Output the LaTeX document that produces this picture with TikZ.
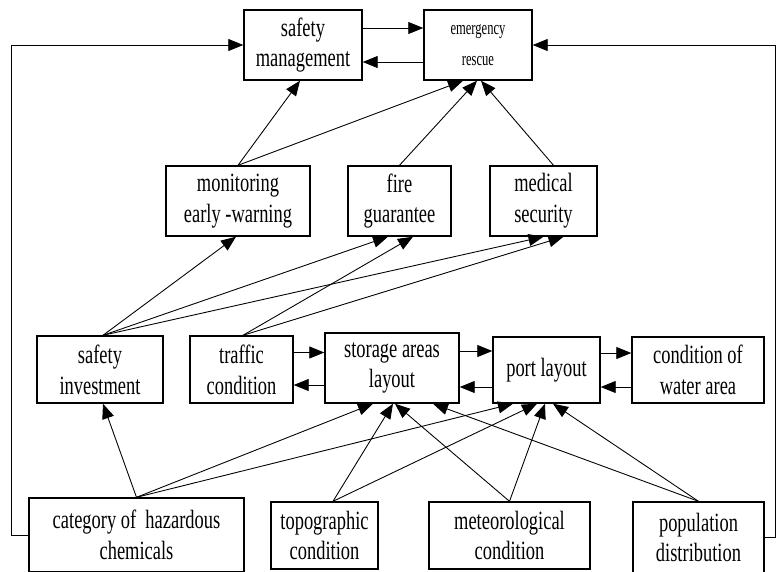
\documentclass[tikz,border=0pt]{standalone}
\usepackage{fontspec}
\setmainfont[FakeStretch=0.7]{Liberation Serif}
\newfontfamily\ersmall[FakeStretch=0.65]{Liberation Serif}
\usepackage{tikz}
\usetikzlibrary{arrows.meta,positioning}
\tikzstyle{box} = [draw=black, line width=0.8pt, rectangle, minimum height=1.4cm, align=center, inner sep=0pt, font=\fontsize{15}{17.5}\selectfont]
\tikzstyle{arrow} = [line width=0.5pt,->,>={Triangle[length=3mm,width=2.4mm]}]

\begin{document}
\begin{tikzpicture}
			\useasboundingbox (0,0) rectangle (15.52,-11.42);
			% top
			\coordinate (pSM) at (6.06,-0.90);
			\coordinate (pER) at (9.56,-0.90);
			% support
			\coordinate (pMON) at (4.76,-4.02);
			\coordinate (pFIRE) at (7.99,-4.02);
			\coordinate (pMED) at (10.87,-4.02);
			% middle row
			\coordinate (pSINV) at (2.00,-7.39);
			\coordinate (pTRAF) at (4.83,-7.39);
			\coordinate (pSTOR) at (7.84,-7.36);
			\coordinate (pPORT) at (10.93,-7.40);
			\coordinate (pWATER) at (13.96,-7.40);
			% bottom row
			\coordinate (pCAT) at (2.73,-10.70);
			\coordinate (pTOPO) at (6.49,-10.71);
			\coordinate (pMET) at (10.19,-10.71);
			\coordinate (pPOP) at (13.97,-10.75);
			\begin{scope}[every node/.style={box}]
			\node[name=SM, minimum width=2.36cm] at (pSM) {safety\\management};
			\node[name=ER, minimum width=2.16cm, font=\ersmall\fontsize{11}{17.5}\selectfont] at (pER) {emergency\\rescue};
			\node[name=MON, minimum width=2.88cm] at (pMON) {monitoring\\early -warning};
			\node[name=FIRE, minimum width=2.06cm] at (pFIRE) {fire\\guarantee};
			\node[name=MED, minimum width=2.14cm] at (pMED) {medical\\security};
			\end{scope}
			\begin{scope}[every node/.style={box, minimum height=1.34cm}]
			\node[name=SINV, minimum width=2.52cm] at (pSINV) {safety\\investment};
			\node[name=TRAF, minimum width=2.06cm] at (pTRAF) {traffic\\condition};
			\node[name=STOR, minimum width=2.68cm, minimum height=1.40cm] at (pSTOR) {storage areas\\layout};
			\node[name=PORT, minimum width=2.14cm, minimum height=1.32cm] at (pPORT) {port layout};
			\node[name=WATER, minimum width=2.64cm, minimum height=1.32cm] at (pWATER) {condition of\\water area};
			\end{scope}
			\begin{scope}[every node/.style={box, minimum height=1.34cm}]
			\node[name=CAT, minimum width=4.30cm, minimum height=1.48cm] at (pCAT) {category of~ hazardous\\chemicals};
			\node[name=TOPO, minimum width=2.14cm] at (pTOPO) {topographic\\condition};
			\node[name=MET, minimum width=3.22cm] at (pMET) {meteorological\\condition};
			\node[name=POP, minimum width=2.62cm, minimum height=1.42cm] at (pPOP) {population\\distribution};
			\end{scope}
			% management <-> rescue
			\draw[arrow] ([yshift=0.34cm]SM.east) -- ([yshift=0.34cm]SM.east -| ER.west);
			\draw[arrow] ([yshift=-0.34cm]ER.west) -- ([yshift=-0.34cm]ER.west -| SM.east);
			% feedback loops
			\draw[arrow] (CAT.west) -- ++(-0.34,0) |- (SM.west);
			\draw[arrow] (POP.east) -- ++(0.22,0) |- (ER.east);
			% support -> top
			\draw[arrow] (MON.north) -- ([xshift=-0.06cm]SM.south);
			\draw[arrow] (MON.north) -- ([xshift=-0.30cm]ER.south);
			\draw[arrow] (FIRE.north) -- ([xshift=-0.02cm]ER.south);
			\draw[arrow] ([xshift=0.2cm]MED.north) -- ([xshift=0.06cm]ER.south);
			% middle -> support
			\draw[arrow] ([xshift=0.06cm]SINV.north) -- ([xshift=-0.04cm]MON.south);
			\draw[arrow] ([xshift=0.06cm]SINV.north) -- ([xshift=-0.23cm]FIRE.south);
			\draw[arrow] ([xshift=0.06cm]SINV.north) -- (MED.south);
			\draw[arrow] ([xshift=0.03cm]TRAF.north) -- ([xshift=0.27cm]FIRE.south);
			\draw[arrow] ([xshift=0.03cm]TRAF.north) -- ([xshift=0.4cm]MED.south);
			% middle row pairs
			\draw[arrow] ([yshift=0.34cm]TRAF.east) -- ([yshift=0.34cm]TRAF.east -| STOR.west);
			\draw[arrow] ([yshift=-0.34cm]STOR.west) -- ([yshift=-0.34cm]STOR.west -| TRAF.east);
			\draw[arrow] ([yshift=0.34cm]STOR.east) -- ([yshift=0.34cm]STOR.east -| PORT.west);
			\draw[arrow] ([yshift=-0.34cm]PORT.west) -- ([yshift=-0.34cm]PORT.west -| STOR.east);
			\draw[arrow] ([yshift=0.34cm]PORT.east) -- ([yshift=0.34cm]PORT.east -| WATER.west);
			\draw[arrow] ([yshift=-0.34cm]WATER.west) -- ([yshift=-0.34cm]WATER.west -| PORT.east);
			% bottom -> middle
			\draw[arrow] (CAT.north) -- ([xshift=0.06cm]SINV.south);
			\draw[arrow] (CAT.north) -- ([xshift=-0.38cm]STOR.south);
			\draw[arrow] (CAT.north) -- ([xshift=-0.67cm]PORT.south);
			\draw[arrow] ([xshift=0.17cm]TOPO.north) -- ([xshift=0.02cm]STOR.south);
			\draw[arrow] ([xshift=0.17cm]TOPO.north) -- ([xshift=-0.19cm]PORT.south);
			\draw[arrow] (MET.north) -- ([xshift=0.06cm]STOR.south);
			\draw[arrow] (MET.north) -- ([xshift=-0.03cm]PORT.south);
			\draw[arrow] (POP.north) -- ([xshift=0.82cm]STOR.south);
			\draw[arrow] (POP.north) -- ([xshift=0.13cm]PORT.south);
			\end{tikzpicture}
\end{document}
